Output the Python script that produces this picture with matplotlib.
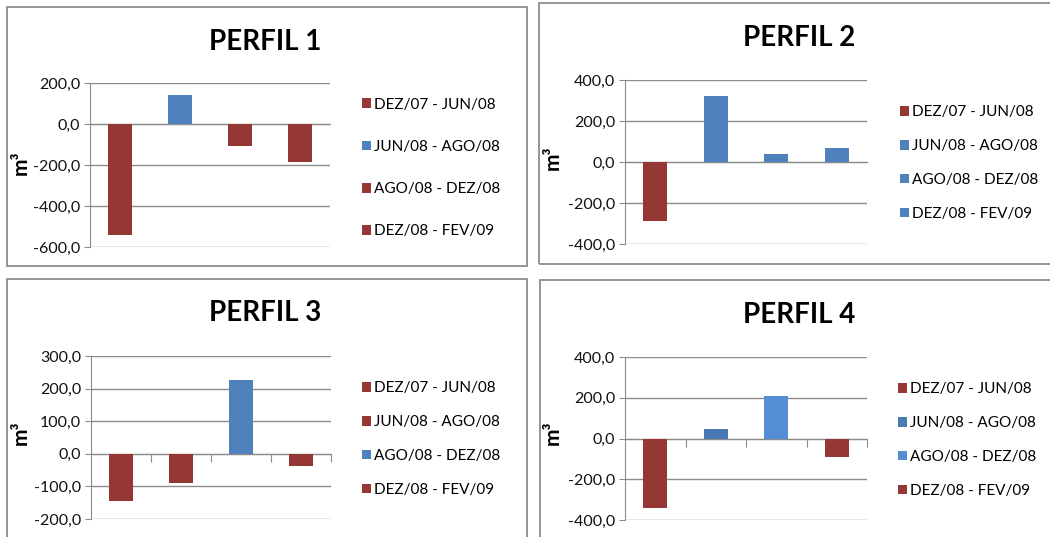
import matplotlib
matplotlib.use('Agg')
import matplotlib.pyplot as plt
from matplotlib.patches import Rectangle, Patch
from matplotlib.ticker import FuncFormatter, MultipleLocator

plt.rcParams['font.family'] = ['Lato', 'DejaVu Sans']

# períodos (cada barra é uma série)
periodos = ['DEZ/07 - JUN/08', 'JUN/08 - AGO/08', 'AGO/08 - DEZ/08', 'DEZ/08 - FEV/09']

# volumes (m³)
perfil1 = [-540, 143, -105, -185]
perfil2 = [-290, 320, 40, 70]
perfil3 = [-145, -90, 225, -37]
perfil4 = [-340, 45, 210, -90]

titulos = ['PERFIL 1', 'PERFIL 2', 'PERFIL 3', 'PERFIL 4']
limites = [(-600, 200, 200), (-400, 400, 200), (-200, 300, 100), (-400, 400, 200)]

VERMELHO = '#953735'
AZUL = '#4F81BD'
AZUL_ESC = '#4A7AB5'
AZUL_CLA = '#558ED5'
cores = [
    [VERMELHO, AZUL, VERMELHO, VERMELHO],
    [VERMELHO, AZUL, AZUL, AZUL],
    [VERMELHO, VERMELHO, AZUL, VERMELHO],
    [VERMELHO, AZUL_ESC, AZUL_CLA, VERMELHO],
]

W, H = 1050, 537
fig = plt.figure(figsize=(W / 100, H / 100), dpi=100)


def fx(x):
    return x / W


def fy(y):
    return 1 - y / H


# layout em pixels: moldura, eixo, título, rótulo y, legenda
molduras = [(7, 7, 527, 266), (539, 3, 1052, 264), (7, 279, 527, 540), (540, 280, 1052, 540)]
eixos = [(90, 83, 330, 247), (625, 80, 867, 244), (91, 356, 331, 519), (625, 357, 867, 520)]
pos_titulo = [(265, 42), (799, 38), (265, 313), (799, 315)]
pos_ylabel = [(21, 163), (553, 158), (21, 433), (553, 433)]
pos_leg = [(362, 168, 1.85), (900, 163, 1.3), (362, 439, 1.3), (898, 440, 1.3)]
ticks_x = [False, False, True, True]

valores = [perfil1, perfil2, perfil3, perfil4]

for i in range(4):
    x0, y0, x1, y1 = molduras[i]
    fig.patches.append(Rectangle((fx(x0), fy(y1)), fx(x1 - x0), (y1 - y0) / H,
                                 transform=fig.transFigure, fill=False,
                                 edgecolor='#8C8C8C', linewidth=1.3))

    l, t, r, b = eixos[i]
    ax = fig.add_axes([fx(l), fy(b), fx(r - l), (b - t) / H])
    handles = []
    for j, v in enumerate(valores[i]):
        ax.bar(j, v, width=0.4, color=cores[i][j], zorder=3)
        handles.append(Patch(facecolor=cores[i][j], label=periodos[j]))

    lo, hi, passo = limites[i]
    ax.set_ylim(lo, hi)
    ax.set_xlim(-0.5, 3.5)
    ax.yaxis.set_major_locator(MultipleLocator(passo))
    ax.yaxis.set_major_formatter(FuncFormatter(lambda v, p: f'{v:.1f}'.replace('.', ',')))
    ax.grid(axis='y', color='#8C8C8C', linewidth=1, zorder=0)
    ax.set_axisbelow(True)
    for s in ['top', 'right']:
        ax.spines[s].set_visible(False)
    ax.spines['left'].set_color('#8C8C8C')
    ax.spines['bottom'].set_position(('data', 0))
    ax.spines['bottom'].set_color('#8C8C8C')
    ax.tick_params(axis='y', length=4, color='#8C8C8C', labelsize=11.5, pad=3,
                   labelcolor='#111111')
    if ticks_x[i]:
        ax.set_xticks([0.5, 1.5, 2.5, 3.5])
        ax.tick_params(axis='x', length=6, color='#8C8C8C', labelbottom=False)
    else:
        ax.set_xticks([])
    ax.patch.set_alpha(0)

    tx, ty = pos_titulo[i]
    fig.text(fx(tx), fy(ty), titulos[i], ha='center', va='center',
             fontsize=20, fontweight='bold')
    lx, ly = pos_ylabel[i]
    fig.text(fx(lx), fy(ly), 'm³', ha='center', va='center', rotation=90,
             fontsize=15, fontweight='bold')

    gx, gy, esp = pos_leg[i]
    fig.legend(handles=handles, loc='center left', bbox_to_anchor=(fx(gx), fy(gy)),
               bbox_transform=fig.transFigure, frameon=False, fontsize=11,
               handlelength=0.6, handleheight=0.6, handletextpad=0.2,
               labelspacing=esp, borderpad=0, borderaxespad=0)

fig.savefig('out.png', dpi=100)
